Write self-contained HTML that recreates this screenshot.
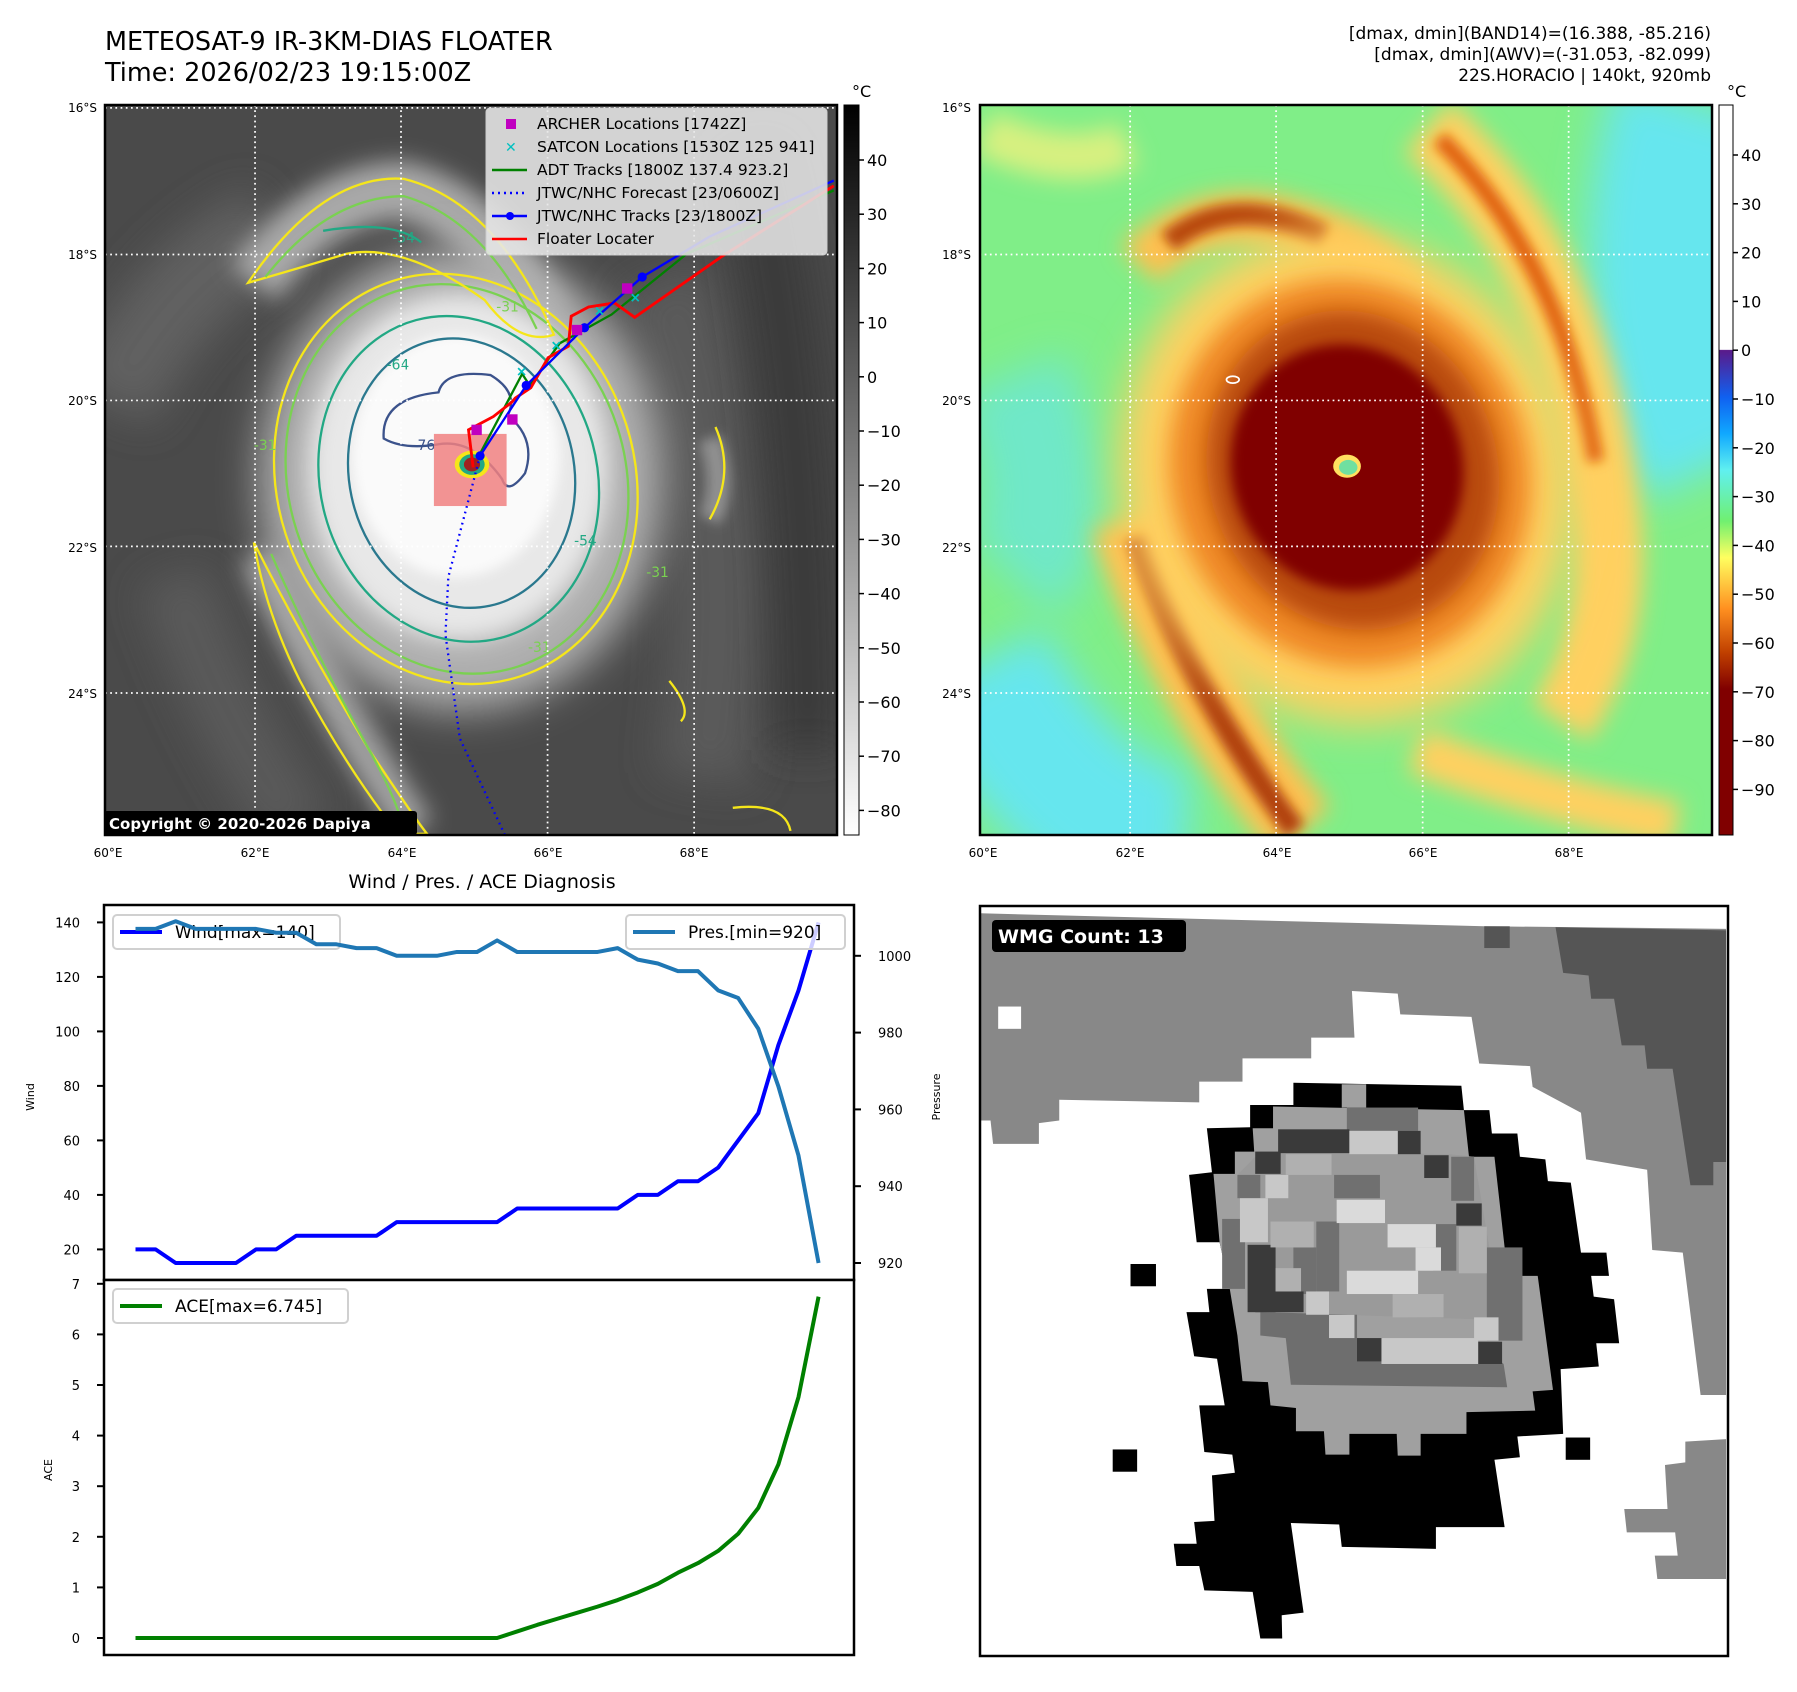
<!DOCTYPE html>
<html><head><meta charset="utf-8"><style>
html,body{margin:0;padding:0;background:#fff;}
svg{display:block;font-family:"DejaVu Sans","Liberation Sans",sans-serif;}
</style></head><body>
<svg id="fig" width="1797" height="1692" viewBox="0 0 1797 1692" xmlns="http://www.w3.org/2000/svg">
<defs>
<clipPath id="clipL"><rect x="105" y="105" width="732" height="730"/></clipPath>
<clipPath id="clipR"><rect x="980" y="105" width="732" height="730"/></clipPath>
<clipPath id="clipW"><rect x="980" y="906" width="748" height="750"/></clipPath>
<filter id="b10" filterUnits="userSpaceOnUse" x="-1000" y="-1000" width="4000" height="4000"><feGaussianBlur stdDeviation="10"/></filter>
<filter id="b20" filterUnits="userSpaceOnUse" x="-1000" y="-1000" width="4000" height="4000"><feGaussianBlur stdDeviation="20"/></filter>
<filter id="b35" filterUnits="userSpaceOnUse" x="-1000" y="-1000" width="4000" height="4000"><feGaussianBlur stdDeviation="35"/></filter>
<linearGradient id="cbL" x1="0" y1="0" x2="0" y2="1"><stop offset="0" stop-color="#000"/><stop offset="1" stop-color="#fff"/></linearGradient>
<linearGradient id="cbR" x1="0" y1="0" x2="0" y2="1">
<stop offset="0" stop-color="#fff"/><stop offset="0.335" stop-color="#fff"/>
<stop offset="0.336" stop-color="#5a1a8a"/><stop offset="0.40" stop-color="#1060f0"/>
<stop offset="0.45" stop-color="#10a8ff"/><stop offset="0.50" stop-color="#60f0f0"/>
<stop offset="0.57" stop-color="#70f070"/><stop offset="0.62" stop-color="#ffff60"/>
<stop offset="0.69" stop-color="#ff9020"/><stop offset="0.75" stop-color="#c04000"/>
<stop offset="0.80" stop-color="#800000"/><stop offset="1" stop-color="#800000"/>
</linearGradient>
</defs>

<text x="105" y="50" font-size="25.5">METEOSAT-9 IR-3KM-DIAS FLOATER</text>
<text x="105" y="81" font-size="25.5">Time: 2026/02/23 19:15:00Z</text>
<g font-size="17" text-anchor="end">
<text x="1711" y="39">[dmax, dmin](BAND14)=(16.388, -85.216)</text>
<text x="1711" y="60">[dmax, dmin](AWV)=(-31.053, -82.099)</text>
<text x="1711" y="81">22S.HORACIO | 140kt, 920mb</text>
</g>

<!-- LEFT MAP -->
<g clip-path="url(#clipL)">
<g transform="scale(0.577)">
<rect x="150" y="150" width="1350" height="1350" fill="#4a4a4a"/>
<path d="M 190,700 Q 300,480 470,400" stroke="#606060" stroke-width="160" fill="none" filter="url(#b35)"/>
<path d="M 1150,480 Q 1290,900 1220,1350" stroke="#5a5a5a" stroke-width="160" fill="none" filter="url(#b35)"/>
<path d="M 300,1000 Q 380,1250 520,1440" stroke="#5a5a5a" stroke-width="120" fill="none" filter="url(#b35)"/>
<path d="M 1300,250 Q 1400,700 1400,1300" stroke="#3a3a3a" stroke-width="120" fill="none" filter="url(#b35)"/>
<path d="M 440,490 Q 560,330 700,330 Q 850,370 940,560" stroke="#a8a8a8" stroke-width="100" fill="none" filter="url(#b20)"/>
<path d="M 450,960 Q 560,1200 720,1440" stroke="#a0a0a0" stroke-width="70" fill="none" filter="url(#b20)"/>
<path d="M 1230,760 Q 1260,840 1230,900" stroke="#909090" stroke-width="40" fill="none" filter="url(#b10)"/>
<ellipse cx="800" cy="830" rx="350" ry="400" fill="#b0b0b0" filter="url(#b35)"/>
<ellipse cx="795" cy="810" rx="260" ry="300" fill="#e8e8e8" filter="url(#b20)"/>
<ellipse cx="790" cy="790" rx="180" ry="210" fill="#fafafa" filter="url(#b10)"/>
<g fill="none" stroke-width="4">
<ellipse cx="790" cy="830" rx="310" ry="360" stroke="#f5e61a" transform="rotate(-18 790 830)"/>
<ellipse cx="792" cy="830" rx="292" ry="342" stroke="#7ad151" transform="rotate(-18 792 830)"/>
<ellipse cx="795" cy="830" rx="240" ry="285" stroke="#22a884" transform="rotate(-15 795 830)"/>
<ellipse cx="800" cy="820" rx="195" ry="235" stroke="#2a788e" transform="rotate(-12 800 820)"/>
<path d="M 665,760 Q 660,690 760,680 Q 770,640 850,650 Q 900,680 880,720 Q 930,760 910,820 Q 880,860 870,830 Q 820,760 760,770 Q 700,780 665,760 Z" stroke="#3b528b"/>
<path d="M 430,490 Q 560,300 700,310 Q 860,350 960,580 Q 900,600 840,520 Q 700,420 600,440 Q 500,470 430,490 Z" stroke="#f5e61a"/>
<path d="M 460,480 Q 570,340 700,340 Q 840,380 930,570" stroke="#7ad151"/>
<path d="M 560,400 Q 680,380 730,420" stroke="#22a884"/>
<path d="M 440,940 Q 520,1100 640,1300 Q 720,1420 740,1445 L 690,1445 Q 600,1330 520,1180 Q 460,1060 440,940 Z" stroke="#f5e61a"/>
<path d="M 470,960 Q 540,1120 640,1300 Q 690,1390 700,1440" stroke="#7ad151"/>
<path d="M 1240,740 Q 1275,820 1230,900" stroke="#f5e61a"/>
<path d="M 1160,1180 Q 1200,1230 1180,1250" stroke="#f5e61a"/>
<path d="M 1270,1400 Q 1360,1390 1370,1440" stroke="#f5e61a"/>
</g>
<g font-size="24">
<text x="680" y="420" fill="#22a884">-54</text>
<text x="860" y="540" fill="#7ad151">-31</text>
<text x="670" y="640" fill="#22a884">-64</text>
<text x="715" y="780" fill="#3b528b">-76</text>
<text x="995" y="945" fill="#22a884">-54</text>
<text x="1120" y="1000" fill="#7ad151">-31</text>
<text x="915" y="1130" fill="#7ad151">-31</text>
<text x="440" y="780" fill="#7ad151">-31</text>
</g>
<rect x="752" y="752" width="126" height="125" fill="#f08080" opacity="0.85"/>
<ellipse cx="818" cy="805" rx="30" ry="24" fill="#f5e61a"/>
<ellipse cx="818" cy="805" rx="22" ry="18" fill="#22a884"/>
<ellipse cx="818" cy="805" rx="14" ry="12" fill="#a02020"/>
<g stroke="#fff" stroke-width="3" stroke-dasharray="3,6" fill="none">
<line x1="442" y1="182" x2="442" y2="1447"/><line x1="695" y1="182" x2="695" y2="1447"/><line x1="949" y1="182" x2="949" y2="1447"/><line x1="1203" y1="182" x2="1203" y2="1447"/>
<line x1="182" y1="187" x2="1450" y2="187"/><line x1="182" y1="441" x2="1450" y2="441"/><line x1="182" y1="694" x2="1450" y2="694"/><line x1="182" y1="947" x2="1450" y2="947"/><line x1="182" y1="1201" x2="1450" y2="1201"/>
</g>
<polyline points="832,790 777,1000 772,1100 797,1280 875,1447" stroke="#0000ff" stroke-width="4" stroke-dasharray="3,7" fill="none"/>
<polyline points="830,790 905,648 918,668 970,595 1060,545 1190,440 1445,330" stroke="#008000" stroke-width="4" fill="none"/>
<polyline points="820,810 812,745 855,722 887,697 893,690 920,672 950,620 985,600 990,548 1020,532 1065,525 1100,550 1250,445 1445,322" stroke="#ff0000" stroke-width="5" fill="none"/>
<g>
<polyline points="832,790 912,668 1013,568 1113,480 1230,410 1445,313" stroke="#0000ff" stroke-width="4" fill="none"/>
<circle cx="912" cy="668" r="8" fill="#0000ff"/><circle cx="1013" cy="568" r="8" fill="#0000ff"/><circle cx="1113" cy="480" r="8" fill="#0000ff"/><circle cx="832" cy="790" r="8" fill="#0000ff"/>
</g>
<g fill="#c000c0">
<rect x="879" y="718" width="18" height="18"/><rect x="817" y="736" width="18" height="18"/><rect x="991" y="563" width="18" height="18"/><rect x="1078" y="491" width="18" height="18"/>
</g>
<g stroke="#00c0c0" stroke-width="3">
<path d="M898,638 l12,12 m0,-12 l-12,12 M958,593 l12,12 m0,-12 l-12,12 M1033,533 l12,12 m0,-12 l-12,12 M1095,510 l12,12 m0,-12 l-12,12"/>
</g>
</g>
</g>
<rect x="105" y="105" width="732" height="730" fill="none" stroke="#000" stroke-width="2.5"/>
<g>
<rect x="486" y="108" width="341" height="147" rx="4" fill="#e6e6e6" fill-opacity="0.88" stroke="#ccc"/>
<rect x="506" y="119" width="10" height="10" fill="#c000c0"/>
<text x="505" y="152" font-size="14" fill="#00c0c0" font-weight="bold">✕</text>
<line x1="492" y1="170" x2="527" y2="170" stroke="#008000" stroke-width="2.5"/>
<line x1="492" y1="193" x2="527" y2="193" stroke="#0000ff" stroke-width="2.5" stroke-dasharray="2,4"/>
<line x1="492" y1="216" x2="527" y2="216" stroke="#0000ff" stroke-width="2.5"/><circle cx="510" cy="216" r="4" fill="#0000ff"/>
<line x1="492" y1="239" x2="527" y2="239" stroke="#ff0000" stroke-width="2.5"/>
<g font-size="15.5" fill="#000">
<text x="537" y="129">ARCHER Locations [1742Z]</text>
<text x="537" y="152">SATCON Locations [1530Z 125 941]</text>
<text x="537" y="175">ADT Tracks [1800Z 137.4 923.2]</text>
<text x="537" y="198">JTWC/NHC Forecast [23/0600Z]</text>
<text x="537" y="221">JTWC/NHC Tracks [23/1800Z]</text>
<text x="537" y="244">Floater Locater</text>
</g>
</g>
<g>
<rect x="104" y="811" width="313" height="24" rx="3" fill="#000"/>
<text x="109" y="829" font-size="15" font-weight="bold" fill="#fff">Copyright © 2020-2026 Dapiya</text>
</g>
<g font-size="12" text-anchor="end">
<text x="97" y="112">16°S</text><text x="97" y="259">18°S</text><text x="97" y="405">20°S</text><text x="97" y="552">22°S</text><text x="97" y="698">24°S</text>
</g>
<g font-size="12" text-anchor="middle">
<text x="108" y="857">60°E</text><text x="255" y="857">62°E</text><text x="402" y="857">64°E</text><text x="548" y="857">66°E</text><text x="694" y="857">68°E</text>
</g>
<g>
<rect x="844" y="105" width="15" height="730" fill="url(#cbL)" stroke="#000" stroke-width="1"/>
<text x="852" y="97" font-size="16">°C</text>
<g id="cbLticks" font-size="16"></g>
</g>

<!-- RIGHT MAP -->
<g clip-path="url(#clipR)">
<g transform="translate(897,0) scale(0.577)">
<rect x="140" y="150" width="1300" height="1350" fill="#80ee88"/>
<path d="M 1400,180 Q 1300,500 1440,800" stroke="#66e6ee" stroke-width="320" fill="none" filter="url(#b35)"/>
<path d="M 140,1150 Q 300,1450 500,1460" stroke="#66e6ee" stroke-width="260" fill="none" filter="url(#b35)"/>
<path d="M 200,650 Q 300,900 200,1000" stroke="#70e8c8" stroke-width="200" fill="none" filter="url(#b35)"/>
<path d="M 150,230 Q 300,300 400,250" stroke="#d8f080" stroke-width="80" fill="none" filter="url(#b20)"/>
<path d="M 420,460 Q 560,320 760,420 Q 840,460 880,520" stroke="#ffc050" stroke-width="90" fill="none" filter="url(#b20)"/>
<path d="M 470,420 Q 580,330 740,410" stroke="#b84810" stroke-width="40" fill="none" filter="url(#b10)"/>
<path d="M 920,220 Q 1180,450 1230,900 Q 1250,1100 1150,1250" stroke="#ffd060" stroke-width="120" fill="none" filter="url(#b20)"/>
<path d="M 940,240 Q 1150,450 1210,800" stroke="#e06010" stroke-width="30" fill="none" filter="url(#b10)"/>
<path d="M 400,900 Q 500,1200 700,1440" stroke="#ffc050" stroke-width="130" fill="none" filter="url(#b20)"/>
<path d="M 415,930 Q 510,1200 690,1440" stroke="#b04010" stroke-width="40" fill="none" filter="url(#b10)"/>
<path d="M 900,1300 Q 1100,1380 1350,1430" stroke="#ffd060" stroke-width="80" fill="none" filter="url(#b20)"/>
<ellipse cx="780" cy="830" rx="390" ry="430" fill="#ffd060" filter="url(#b35)" transform="rotate(-20 780 830)"/>
<ellipse cx="785" cy="820" rx="310" ry="340" fill="#f08a28" filter="url(#b20)" transform="rotate(-20 785 820)"/>
<ellipse cx="790" cy="815" rx="250" ry="280" fill="#b84a0c" filter="url(#b20)" transform="rotate(-20 790 815)"/>
<ellipse cx="780" cy="810" rx="200" ry="215" fill="#800000" filter="url(#b10)" transform="rotate(-20 780 810)"/>
<ellipse cx="780" cy="808" rx="24" ry="20" fill="#ffe060"/>
<ellipse cx="782" cy="810" rx="16" ry="13" fill="#70e0a0"/>
<ellipse cx="582" cy="658" rx="11" ry="6" fill="none" stroke="#fff" stroke-width="3"/>
<g stroke="#fff" stroke-width="3" stroke-dasharray="3,6" fill="none">
<line x1="404" y1="182" x2="404" y2="1447"/><line x1="657" y1="182" x2="657" y2="1447"/><line x1="911" y1="182" x2="911" y2="1447"/><line x1="1164" y1="182" x2="1164" y2="1447"/>
<line x1="143" y1="441" x2="1412" y2="441"/><line x1="143" y1="694" x2="1412" y2="694"/><line x1="143" y1="947" x2="1412" y2="947"/><line x1="143" y1="1201" x2="1412" y2="1201"/>
</g>
</g>
</g>
<rect x="980" y="105" width="732" height="730" fill="none" stroke="#000" stroke-width="2.5"/>
<g font-size="12" text-anchor="end">
<text x="971" y="112">16°S</text><text x="971" y="259">18°S</text><text x="971" y="405">20°S</text><text x="971" y="552">22°S</text><text x="971" y="698">24°S</text>
</g>
<g font-size="12" text-anchor="middle">
<text x="983" y="857">60°E</text><text x="1130" y="857">62°E</text><text x="1277" y="857">64°E</text><text x="1423" y="857">66°E</text><text x="1569" y="857">68°E</text>
</g>
<g>
<rect x="1719" y="105" width="14" height="730" fill="url(#cbR)" stroke="#000" stroke-width="1"/>
<text x="1727" y="97" font-size="16">°C</text>
<g id="cbRticks" font-size="16"></g>
</g>

<text x="482" y="888" font-size="19" text-anchor="middle">Wind / Pres. / ACE Diagnosis</text>
<g id="ts"></g>
<text transform="translate(34,1097) rotate(-90)" font-size="11" text-anchor="middle">Wind</text>
<text transform="translate(940,1097) rotate(-90)" font-size="11" text-anchor="middle">Pressure</text>
<text transform="translate(52,1470) rotate(-90)" font-size="11" text-anchor="middle">ACE</text>

<!-- WMG -->
<g clip-path="url(#clipW)">
<g transform="translate(960,890) scale(0.509,0.518)">
<rect x="30" y="30" width="1480" height="1470" fill="#fff"/>
<polygon fill="#888" points="40,45 1030,70 1505,75 1505,975 1455,975 1420,700 1360,695 1350,540 1230,520 1220,430 1125,380 1120,340 1020,335 1005,245 865,240 860,200 770,195 775,285 690,285 690,325 555,325 555,370 470,370 470,410 195,405 195,445 155,450 155,490 65,490 60,445 40,445"/>
<polygon fill="#555" points="1170,72 1505,78 1505,525 1480,525 1480,570 1435,570 1400,345 1350,345 1345,300 1300,300 1285,210 1240,210 1235,165 1185,160"/>
<rect x="1030" y="70" width="50" height="42" fill="#555"/>
<rect x="75" y="225" width="45" height="43" fill="#fff"/>
<polygon fill="#888" points="1425,1065 1505,1060 1505,1330 1370,1330 1365,1285 1410,1285 1405,1240 1310,1240 1305,1195 1390,1195 1385,1110 1425,1105"/>
<polygon fill="#000" points="655,372 985,378 990,425 1040,425 1045,470 1095,470 1100,515 1150,520 1155,562 1200,565 1220,700 1270,700 1275,745 1240,745 1245,785 1285,790 1295,875 1250,875 1255,920 1180,925 1185,1050 1095,1055 1100,1095 1050,1100 1070,1230 935,1230 935,1272 750,1268 745,1225 650,1222 675,1395 632,1400 633,1445 590,1445 575,1355 480,1352 470,1305 425,1305 420,1262 465,1262 460,1220 500,1218 495,1130 540,1125 535,1090 480,1085 470,995 520,995 505,905 460,900 445,815 490,815 485,770 530,770 510,680 465,680 450,550 495,545 485,460 570,458 570,415 655,415"/>
<rect x="335" y="722" width="50" height="43" fill="#000"/><rect x="300" y="1080" width="48" height="43" fill="#000"/><rect x="1190" y="1057" width="48" height="43" fill="#000"/>
<polygon fill="#a0a0a0" points="615,418 990,425 1000,515 1050,515 1070,690 1085,745 1135,745 1165,965 1125,968 1130,1005 995,1008 995,1050 905,1050 905,1092 860,1092 858,1050 765,1050 765,1090 718,1090 715,1045 660,1045 660,1000 610,995 605,950 555,948 545,860 530,770 510,680 498,548 540,548 540,505 578,505 575,460 615,460"/>
<rect x="750" y="375" width="48" height="45" fill="#a0a0a0"/>
<polygon fill="#9a9a9a" points="630,505 960,510 1010,515 1040,690 1060,830 590,815 565,685 550,595 545,550 590,505"/>
<polygon fill="#6e6e6e" points="590,815 780,820 780,865 1018,872 1068,915 1075,960 650,955 640,865 590,860"/>
<g fill="#707070"><rect x="760" y="420" width="140" height="45"/><rect x="545" y="550" width="45" height="45"/><rect x="515" y="635" width="45" height="135"/><rect x="965" y="515" width="45" height="85"/><rect x="1035" y="690" width="70" height="180"/><rect x="735" y="550" width="90" height="45"/><rect x="700" y="640" width="45" height="135"/><rect x="930" y="645" width="45" height="90"/><rect x="655" y="690" width="45" height="90"/></g>
<g fill="#3a3a3a"><rect x="625" y="462" width="140" height="46"/><rect x="860" y="465" width="45" height="45"/><rect x="580" y="505" width="50" height="43"/><rect x="912" y="512" width="48" height="44"/><rect x="975" y="605" width="50" height="43"/><rect x="565" y="685" width="55" height="130"/><rect x="580" y="775" width="95" height="40"/><rect x="780" y="865" width="50" height="45"/><rect x="1018" y="872" width="47" height="43"/></g>
<g fill="#c8c8c8"><rect x="765" y="465" width="95" height="45"/><rect x="550" y="595" width="55" height="85"/><rect x="828" y="865" width="190" height="50"/><rect x="1010" y="825" width="48" height="45"/><rect x="680" y="775" width="45" height="45"/><rect x="725" y="820" width="50" height="45"/><rect x="600" y="550" width="45" height="45"/></g>
<g fill="#dadada"><rect x="740" y="598" width="95" height="45"/><rect x="840" y="645" width="95" height="45"/><rect x="895" y="690" width="50" height="45"/><rect x="760" y="735" width="140" height="45"/></g>
<g fill="#b0b0b0"><rect x="640" y="510" width="90" height="40"/><rect x="610" y="640" width="85" height="50"/><rect x="980" y="650" width="55" height="90"/><rect x="850" y="780" width="100" height="45"/><rect x="620" y="730" width="50" height="45"/></g>
</g>
</g>
<rect x="980" y="906" width="748" height="750" fill="none" stroke="#000" stroke-width="2.5"/>
<g>
<rect x="992" y="920" width="194" height="32" rx="4" fill="#000"/>
<text x="998" y="943" font-size="19" font-weight="bold" fill="#fff">WMG Count: 13</text>
</g>
</svg>
<script>
const wind = [20,20,15,15,15,15,20,20,25,25,25,25,25,30,30,30,30,30,30,35,35,35,35,35,35,40,40,45,45,50,60,70,95,115,140];
const pres = [1007,1007,1009,1007,1007,1007,1007,1006,1006,1003,1003,1002,1002,1000,1000,1000,1001,1001,1004,1001,1001,1001,1001,1001,1002,999,998,996,996,991,989,981,966,948,920];
const ace = [0,0,0,0,0,0,0,0,0,0,0,0,0,0,0,0,0,0,0,0.13,0.26,0.38,0.5,0.62,0.75,0.9,1.07,1.29,1.48,1.72,2.06,2.57,3.43,4.76,6.745];
const windTicks = [20,40,60,80,100,120,140];
const presTicks = [920,940,960,980,1000];
const aceTicks = [0,1,2,3,4,5,6,7];
const irCbTicks = [40,30,20,10,0,-10,-20,-30,-40,-50,-60,-70,-80];
const awvCbTicks = [40,30,20,10,0,-10,-20,-30,-40,-50,-60,-70,-80,-90];

const NS='http://www.w3.org/2000/svg';
function mk(tag, attrs, parent){const e=document.createElementNS(NS,tag);for(const k in attrs)e.setAttribute(k,attrs[k]);parent.appendChild(e);return e;}
const xS = i => 135.5 + 20.09*i;
const yWind = v => 1249.4 - (v-20)*2.725;
const yPres = p => 1263 - (p-920)*3.84;
const yAce = a => 1638 - a*50.6;
const ts = document.getElementById('ts');
const fmt = v => String(v).replace('-', '\u2212');

let f1 = mk('rect',{x:104,y:905,width:750,height:375,fill:'#fff',stroke:'#000','stroke-width':2.5},ts);


let f2 = mk('rect',{x:104,y:1280,width:750,height:375,fill:'#fff',stroke:'#000','stroke-width':2.5},ts);



windTicks.forEach(v=>{
  const y=yWind(v);
  let t=mk('line',{x1:97,y1:y,x2:104,y2:y,stroke:'#000','stroke-width':2},ts);
  
  
  let l=mk('text',{x:80,y:y+5,'font-size':13,'text-anchor':'end'},ts); l.textContent=v;
  
  
});
presTicks.forEach(v=>{
  const y=yPres(v);
  let t=mk('line',{x1:854,y1:y,x2:861,y2:y,stroke:'#000','stroke-width':2},ts);
  
  
  let l=mk('text',{x:878,y:y+5,'font-size':13},ts); l.textContent=v;
  
  
});
aceTicks.forEach(v=>{
  const y=yAce(v);
  let t=mk('line',{x1:97,y1:y,x2:104,y2:y,stroke:'#000','stroke-width':2},ts);
  
  
  let l=mk('text',{x:80,y:y+5,'font-size':13,'text-anchor':'end'},ts); l.textContent=v;
  
  
});

function legend(x,y,w,color,label,name){
  const g=mk('g',{},ts);
  
  
  mk('rect',{x:x,y:y,width:w,height:34,rx:4,fill:'#fff','fill-opacity':0.8,stroke:'#d0d0d0','stroke-width':2},g);
  mk('line',{x1:x+7,y1:y+17,x2:x+49,y2:y+17,stroke:color,'stroke-width':4},g);
  const t=mk('text',{x:x+62,y:y+23,'font-size':17},g); t.textContent=label;
}
legend(113,915,227,'#0000ff','Wind[max=140]','wind-legend');

const wl=mk('polyline',{points:wind.map((v,i)=>xS(i)+','+yWind(v)).join(' '),fill:'none',stroke:'#0000ff','stroke-width':4,'stroke-linejoin':'round'},ts);


const pl=mk('polyline',{points:pres.map((v,i)=>xS(i)+','+yPres(v)).join(' '),fill:'none',stroke:'#1f77b4','stroke-width':4,'stroke-linejoin':'round'},ts);


legend(626,915,219,'#1f77b4','Pres.[min=920]','pressure-legend');
legend(113,1289,235,'#008000','ACE[max=6.745]','ace-legend');
const al=mk('polyline',{points:ace.map((v,i)=>xS(i)+','+yAce(v)).join(' '),fill:'none',stroke:'#008000','stroke-width':4,'stroke-linejoin':'round'},ts);



const cL=document.getElementById('cbLticks');
irCbTicks.forEach(v=>{
  const y=160+(40-v)*5.42;
  mk('line',{x1:859,y1:y,x2:864,y2:y,stroke:'#000','stroke-width':1.5},cL);
  const t=mk('text',{x:867,y:y+6},cL); t.textContent=fmt(v);
  
  
});
const cR=document.getElementById('cbRticks');
awvCbTicks.forEach(v=>{
  const y=155+(40-v)*4.88;
  mk('line',{x1:1733,y1:y,x2:1738,y2:y,stroke:'#000','stroke-width':1.5},cR);
  const t=mk('text',{x:1741,y:y+6},cR); t.textContent=fmt(v);
  
  
});
</script>
</body></html>
